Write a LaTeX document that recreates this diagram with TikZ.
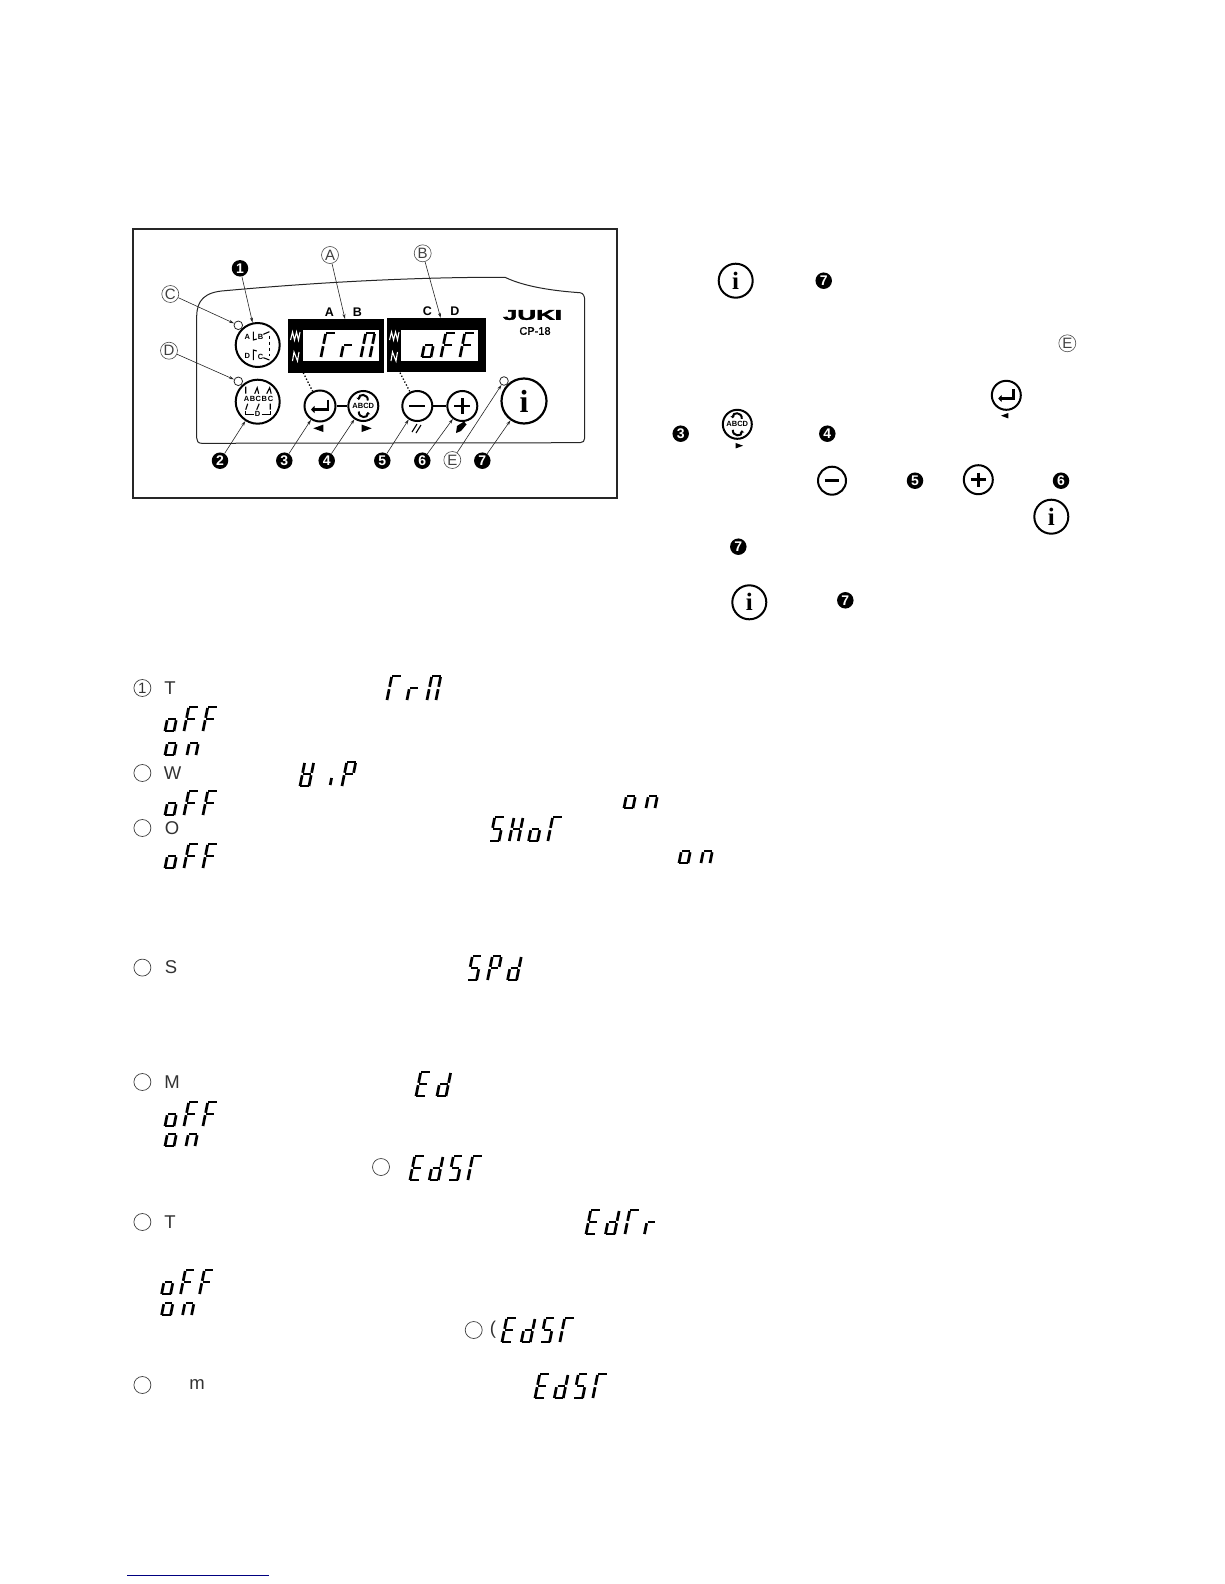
\documentclass[tikz,border=0pt]{standalone}
\usepackage{fontspec}
\setmainfont{Liberation Sans}
\newfontfamily\infofont{Liberation Serif}
\newfontfamily\jukifont{Liberation Sans Bold}[FakeBold=2.5]
\newfontfamily\modelfont{Liberation Sans}[FakeBold=.8]
\usetikzlibrary{arrows.meta}
% seven segment glyphs, baseline at y=0
\def\sega{(0.4,-24)--(9,-24)}
\def\segb{(9,-23)--(9,-13.2)}
\def\segc{(9,-10.8)--(9,0)}
\def\segd{(0.4,0)--(9,0)}
\def\sege{(0,-10.8)--(0,0)}
\def\segf{(0,-23)--(0,-13.2)}
\def\segg{(0.8,-12)--(8.2,-12)}
\def\segi{(9,-8)--(9,-1)}
\def\glyphT{a,f,e}
\def\glyphr{e,g}
\def\glyphM{a,b,c,e,f}
\def\glypho{c,d,e,g}
\def\glyphF{a,e,f,g}
\def\glyphn{c,e,g}
\def\glyphH{b,c,e,f,g}
\def\glyphS{a,c,d,f,g}
\def\glyphP{a,b,e,f,g}
\def\glyphd{b,c,d,e,g}
\def\glyphE{a,d,e,f,g}
\def\glyphW{b,c,d,e,f,g}
\def\glyphi{i}
\newcommand{\lcdtext}[4]{%
  \foreach \c [count=\n from 0] in {#4} {
    \begin{scope}[shift={(#1+\n*#3,#2)},xslant=.2]
      \expandafter\let\expandafter\thisglyph\csname glyph\c\endcsname
      \foreach \s in \thisglyph {
        \expandafter\let\expandafter\thisseg\csname seg\s\endcsname
        \draw[lcdseg] \thisseg;
      }
    \end{scope}
  }}
\tikzset{
  lcdseg/.style={line width=2.7pt,black},
  frameline/.style={draw=black!85,line width=2pt},
  panelline/.style={draw=black!85,line width=1pt},
  btn/.style={circle,draw=black,fill=white,line width=2pt,inner sep=0pt},
  led/.style={circle,draw=black!85,fill=white,line width=.8pt,minimum size=8.6pt,inner sep=0pt},
  blk/.style={circle,fill=black,text=white,minimum size=16.5pt,inner sep=0pt,font=\bfseries\fontsize{14}{14}\selectfont},
  lab/.style={circle,draw=black!70,line width=.6pt,minimum size=17pt,inner sep=0pt,text=black!75,font=\fontsize{15}{15}\selectfont},
  ring/.style={circle,draw=black!75,line width=.7pt,minimum size=17pt,inner sep=0pt,text=black!80,font=\fontsize{15}{15}\selectfont},
  word/.style={inner sep=0pt,text=black!80,font=\fontsize{18.5}{18.5}\selectfont},
  letter/.style={inner sep=0pt,font=\bfseries\fontsize{12.5}{12.5}\selectfont},
  smalltag/.style={inner sep=0pt,font=\bfseries\fontsize{7.5}{7.5}\selectfont},
  arr/.style={-{Stealth[length=5pt,width=3pt]},line width=.6pt,black!85},
  dotlink/.style={dotted,line width=1.3pt,black},
  lcdbox/.style={rectangle,fill=black,inner sep=0pt},
  lcdwin/.style={rectangle,fill=white,inner sep=0pt},
  infofnt/.style={font=\infofont\bfseries\fontsize{#1}{#1}\selectfont},
  entericon/.pic={
    \draw[line width=2.6pt,-{Stealth[length=3.5pt,width=7pt,inset=0pt]}] (8,-6.5) -- (8,3.5) -- (-9,3.5);
  },
  abcdicon/.pic={
    \draw[line width=2pt,-{Stealth[length=2.5pt,width=4.5pt]}] (4.5,-5.5) .. controls (5,-12.5) and (-5,-12.5) .. (-4.5,-6);
    \draw[line width=2pt,-{Stealth[length=2.5pt,width=4.5pt]}] (-4.5,5.5) .. controls (-5,12.5) and (5,12.5) .. (4.5,6);
    \node[inner sep=0pt,font=\bfseries\fontsize{7.5}{7.5}\selectfont] (abcdtxt) at (0,0) {ABCD};
  },
  minusicon/.pic={\draw[line width=2.8pt] (-8,0) -- (8,0);},
  plusicon/.pic={\draw[line width=2.8pt] (-8,0) -- (8,0) (0,-8) -- (0,8);},
  leftmark/.pic={\fill (-5,0) -- (5,-3.7) -- (5,3.7) -- cycle;},
  rightmark/.pic={\fill (5,0) -- (-5,-3.7) -- (-5,3.7) -- cycle;}
}
\begin{document}
\begin{tikzpicture}[x=1pt,y=-1pt]
  \useasboundingbox[fill=white] (0,0) rectangle (1224,1584);
  % panel picture
  \draw[frameline] (132.5,229) rectangle (616.7,498);
  \draw[panelline] (196.7,438) -- (196.7,316.7) .. controls (196.7,300) and (205,292) .. (225,290.7)
    .. controls (320,282) and (420,277) .. (505,277.3) .. controls (525,287) and (555,291) .. (580,292.7)
    .. controls (583,293) and (584.7,296) .. (584.7,300) -- (584.7,438)
    .. controls (584.7,441) and (583,442.7) .. (580,442.7) -- (201.7,443.3)
    .. controls (198,443.3) and (196.7,441) .. cycle;

  \node[lcdbox,minimum width=95.7pt,minimum height=53.4pt] (dispA) at (336.2,346) {};
  \node[lcdbox,minimum width=99.3pt,minimum height=53.4pt] (dispB) at (436.3,345) {};
  \node[lcdwin,minimum width=76pt,minimum height=31pt] (winA) at (341.3,345.5) {};
  \node[lcdwin,minimum width=77.6pt,minimum height=31pt] (winB) at (439.5,345.5) {};
  \lcdtext{321}{357}{20}{T,r,M}
  \lcdtext{422}{357}{19}{o,F,F}
  \draw[white,line width=1.1pt] (290.5,340) -- (292.5,332) -- (294.5,340) -- (296.5,332) -- (298.5,340) -- (300,332);
  \draw[white,line width=1.1pt] (292.5,361) -- (294,352) -- (297.5,361) -- (299,352);
  \draw[white,line width=1.1pt] (389.5,340) -- (391.5,332) -- (393.5,340) -- (395.5,332) -- (397.5,340) -- (399,332);
  \draw[white,line width=1.1pt] (391,361) -- (392.5,352) -- (396,361) -- (397.5,352);

  \node[letter] (txtA) at (329.3,311.7) {A};
  \node[letter] (txtB) at (357.3,311.7) {B};
  \node[letter] (txtC) at (427.3,310.7) {C};
  \node[letter] (txtD) at (455,310.7) {D};

  \node[inner sep=0pt,font=\jukifont\fontsize{14}{14}\selectfont] (juki) at (532.5,315) {\scalebox{1.85}[1]{JUKI}};
  \node[inner sep=0pt,font=\modelfont\fontsize{11}{11}\selectfont] (model) at (535,331) {CP-18};

  \node[btn,minimum size=44pt] (k1) at (257.7,345) {};
  \node[btn,minimum size=44pt] (k2) at (257.7,401.7) {};
  \node[btn,minimum size=31pt] (k3) at (320,406) {};
  \node[btn,minimum size=30pt] (k4) at (363.3,406) {};
  \node[btn,minimum size=30pt] (k5) at (417.3,406) {};
  \node[btn,minimum size=30pt] (k6) at (462.3,406) {};
  \node[btn,minimum size=45pt,infofnt=32,line width=2.2pt] (k7) at (524,401) {i};
  \draw[line width=1.6pt] (k3) -- (k4);
  \draw[line width=1.6pt] (k5) -- (k6);
  \pic at (k3) {entericon};
  \pic at (k4) {abcdicon};
  \pic at (k5) {minusicon};
  \pic at (k6) {plusicon};
  \pic at (318.3,428.3) {leftmark};
  \pic at (366.7,428.3) {rightmark};
  \draw[line width=1.1pt] (412,432) -- (417,424) (416,433) -- (421,425);
  \fill (456,433) -- (457,426) -- (464,421.5) -- (466.5,424.5) -- (461,431) -- cycle;

  % stitch marks of the two big keys
  \begin{scope}[shift={(k1)}]
    \node[smalltag] (k1a) at (-10.3,-7.7) {A};
    \node[smalltag] (k1b) at (3,-8.3) {B};
    \node[smalltag] (k1c) at (3,11.7) {C};
    \node[smalltag] (k1d) at (-10.3,10.7) {D};
    \draw[line width=1.1pt] (-4.3,-13.3) -- (-4.3,-5) -- (-1,-6) (-4.3,15) -- (-4.3,5) -- (-1,6);
    \draw[line width=1.1pt] (5.7,-10.7) -- (11.7,-13.3) (5.7,12.7) -- (11.7,15);
    \draw[line width=1.2pt,dashed] (11.7,-9.3) -- (11.7,11);
  \end{scope}
  \begin{scope}[shift={(k2)}]
    \node[smalltag] (k2a) at (-11,-3) {A};
    \node[smalltag] (k2b) at (-5.2,-3) {B};
    \node[smalltag] (k2c) at (.7,-3) {C};
    \node[smalltag] (k2e) at (6.7,-3) {B};
    \node[smalltag] (k2f) at (13,-3) {C};
    \node[smalltag] (k2d) at (0,12.7) {D};
    \draw[line width=1.1pt] (-12,-15) -- (-12,-8) (-3,-8) -- (-.5,-14) -- (1,-8) (9,-8) -- (12,-14) -- (13.5,-8);
    \draw[line width=1.1pt] (-12,8) -- (-10,2) (-1,8) -- (1.5,2) (12.5,2) -- (12.5,8);
    \draw[line width=1.1pt] (-12.5,9) -- (-12.5,12.7) -- (-4,12.7) (4,12.7) -- (12.5,12.7) -- (12.5,9);
  \end{scope}

  \node[led] (ledC) at (238.3,325.3) {};
  \node[led] (ledD) at (238.3,381.3) {};
  \node[led] (ledE) at (504,381) {};

  \node[lab] (labA) at (330,255) {A};
  \node[lab] (labB) at (422.7,253.3) {B};
  \node[lab] (labC) at (170.3,294) {C};
  \node[lab] (labD) at (169,350.7) {D};
  \node[lab] (labE) at (452.3,460) {E};
  \node[blk] (n1) at (240,268.3) {1};
  \node[blk] (n2) at (220,460.7) {2};
  \node[blk] (n3) at (284.3,460.7) {3};
  \node[blk] (n4) at (326.7,460.7) {4};
  \node[blk] (n5) at (382.3,460.7) {5};
  \node[blk] (n6) at (422.3,460.7) {6};
  \node[blk] (n7) at (482.3,460.7) {7};

  \coordinate (tipA) at (345,319);
  \coordinate (tipB) at (440.7,318);
  \coordinate (dotA) at (303.3,372.7);
  \coordinate (dotB) at (400,372.7);
  \draw[dotlink] (dotA) -- (k3);
  \draw[dotlink] (dotB) -- (k5);
  \draw[arr] (labA) -- (tipA);
  \draw[arr] (labB) -- (tipB);
  \draw[arr] (labC) -- (ledC);
  \draw[arr] (labD) -- (ledD);
  \draw[arr] (labE) -- (ledE);
  \draw[arr] (n1) -- (k1);
  \draw[arr] (n2) -- (k2);
  \draw[arr] (n3) -- (k3);
  \draw[arr] (n4) -- (k4);
  \draw[arr] (n5) -- (k5);
  \draw[arr] (n6) -- (k6);
  \draw[arr] (n7) -- (k7);

  % icons beside the picture
  \node[btn,minimum size=34pt,infofnt=25] (i1) at (735.7,280.7) {i};
  \node[blk] (m1) at (823.7,280.7) {7};
  \node[lab] (e1) at (1067.3,343.3) {E};
  \node[btn,minimum size=29pt] (ent) at (1006.3,395.3) {};
  \pic[scale=.9] at (ent) {entericon};
  \pic[scale=.75] at (1004.7,415.7) {leftmark};
  \node[blk] (m3) at (680.7,433.7) {3};
  \node[btn,minimum size=29pt] (abc) at (737.3,424.3) {};
  \pic at (abc) {abcdicon};
  \pic[scale=.75] at (739.3,445.7) {rightmark};
  \node[blk] (m4) at (827.3,433.7) {4};
  \node[btn,minimum size=28pt] (mns) at (832,480.7) {};
  \pic[scale=.9] at (mns) {minusicon};
  \node[blk] (m5) at (915,480.7) {5};
  \node[btn,minimum size=29pt] (pls) at (978.3,479.7) {};
  \pic[scale=.9] at (pls) {plusicon};
  \node[blk] (m6) at (1061,480.7) {6};
  \node[btn,minimum size=34pt,infofnt=25] (i2) at (1051.3,516.7) {i};
  \node[blk] (m7) at (738.3,546.7) {7};
  \node[btn,minimum size=34pt,infofnt=25] (i3) at (749.3,602.3) {i};
  \node[blk] (m8) at (845.3,600.3) {7};

  % list rows
  \node[ring] (r1) at (142.4,688) {1};
  \node[word] (w1) at (170,688) {T};
  \lcdtext{387}{700}{20}{T,r,M}
  \lcdtext{165}{731}{19}{o,F,F}
  \lcdtext{165}{755}{22}{o,n}
  \node[ring] (r2) at (142.4,773) {};
  \node[word] (w2) at (172.7,773) {W};
  \lcdtext{300}{786}{21}{W,i,P}
  \lcdtext{165}{815}{19}{o,F,F}
  \lcdtext{624}{808}{22}{o,n}
  \node[ring] (r3) at (142.4,828) {};
  \node[word] (w3) at (172,828) {O};
  \lcdtext{490}{841}{19.3}{S,H,o,T}
  \lcdtext{165}{868}{19}{o,F,F}
  \lcdtext{679}{863}{22}{o,n}
  \node[ring] (r4) at (142.4,967.6) {};
  \node[word] (w4) at (171,967.6) {S};
  \lcdtext{467.6}{980}{20}{S,P,d}
  \node[ring] (r5) at (142.4,1082) {};
  \node[word] (w5) at (172,1082) {M};
  \lcdtext{416}{1096}{21}{E,d}
  \lcdtext{165}{1126}{19}{o,F,F}
  \lcdtext{165}{1146}{21}{o,n}
  \node[ring] (r6) at (381,1167) {};
  \lcdtext{410}{1180}{19.3}{E,d,S,T}
  \node[ring] (r7) at (142.4,1222) {};
  \node[word] (w7) at (170,1222) {T};
  \lcdtext{586}{1234}{19.5}{E,d,T,r}
  \lcdtext{161.6}{1294}{19}{o,F,F}
  \lcdtext{161.6}{1315}{21}{o,n}
  \node[ring] (r8) at (473.7,1330) {};
  \node[word] (w8) at (493,1330) {(};
  \lcdtext{502}{1342}{19.3}{E,d,S,T}
  \node[ring] (r9) at (142.4,1385) {};
  \node[word] (w9) at (197,1385) {m};
  \lcdtext{535}{1398}{19.3}{E,d,S,T}

  \draw[line width=1.3pt,color=blue!50!black] (127,1575.3) -- (269,1575.3);
\end{tikzpicture}
\end{document}
